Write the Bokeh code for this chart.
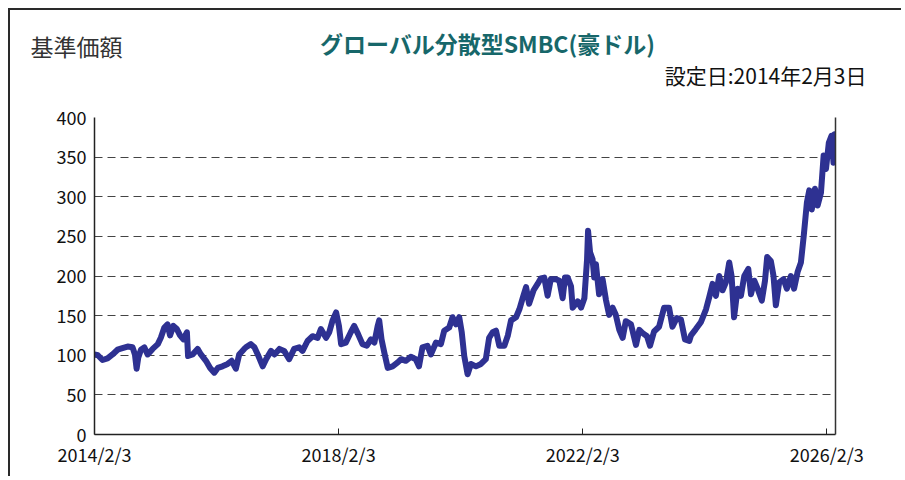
from datetime import datetime
from bokeh.plotting import figure
from bokeh.models import ColumnDataSource, FixedTicker, Range1d, LinearAxis
from bokeh.core.properties import value
from bokeh.embed import file_html
from bokeh.resources import INLINE

# ---- data ----
dates = [
    "2014-02-03", "2014-02-23", "2014-03-23", "2014-04-22", "2014-05-22", "2014-06-21",
    "2014-07-20", "2014-08-20", "2014-09-19", "2014-10-03", "2014-10-13", "2014-10-23",
    "2014-11-08", "2014-11-28", "2014-12-18", "2015-01-17", "2015-02-17", "2015-03-07",
    "2015-03-28", "2015-04-16", "2015-05-01", "2015-05-21", "2015-06-11", "2015-06-30",
    "2015-07-20", "2015-08-10", "2015-08-17", "2015-09-13", "2015-10-13", "2015-11-02",
    "2015-12-02", "2015-12-27", "2016-01-21", "2016-02-11", "2016-03-10", "2016-04-10",
    "2016-05-04", "2016-05-29", "2016-06-18", "2016-07-18", "2016-07-28", "2016-08-27",
    "2016-09-17", "2016-10-07", "2016-11-06", "2016-11-26", "2016-12-25", "2017-01-15",
    "2017-02-14", "2017-03-14", "2017-04-13", "2017-05-13", "2017-06-12", "2017-07-02",
    "2017-08-01", "2017-08-31", "2017-09-30", "2017-10-20", "2017-11-20", "2017-12-09",
    "2017-12-29", "2018-01-19", "2018-02-05", "2018-02-18", "2018-03-18", "2018-04-17",
    "2018-05-07", "2018-05-30", "2018-06-26", "2018-07-22", "2018-08-15", "2018-09-05",
    "2018-09-25", "2018-10-04", "2018-10-18", "2018-11-04", "2018-11-24", "2018-12-23",
    "2019-01-23", "2019-02-12", "2019-03-12", "2019-04-11", "2019-05-11", "2019-05-30",
    "2019-06-20", "2019-07-20", "2019-08-09", "2019-09-09", "2019-10-08", "2019-10-28",
    "2019-11-27", "2019-12-17", "2020-01-07", "2020-01-26", "2020-02-10", "2020-02-25",
    "2020-03-16", "2020-04-05", "2020-05-05", "2020-06-04", "2020-07-03", "2020-07-23",
    "2020-08-13", "2020-09-02", "2020-09-22", "2020-10-22", "2020-11-12", "2020-12-01",
    "2020-12-31", "2021-01-20", "2021-02-10", "2021-03-01", "2021-03-19", "2021-04-15",
    "2021-05-09", "2021-05-28", "2021-06-18", "2021-07-08", "2021-07-27", "2021-08-27",
    "2021-09-16", "2021-10-06", "2021-10-20", "2021-11-05", "2021-11-25", "2021-12-05",
    "2022-01-04", "2022-01-24", "2022-02-13", "2022-03-01", "2022-03-07", "2022-03-19",
    "2022-04-03", "2022-04-13", "2022-04-23", "2022-05-12", "2022-06-02", "2022-06-22",
    "2022-07-11", "2022-08-01", "2022-08-20", "2022-09-10", "2022-09-30", "2022-10-19",
    "2022-11-19", "2022-12-19", "2023-01-08", "2023-01-28", "2023-02-23", "2023-03-13",
    "2023-04-06", "2023-05-06", "2023-06-05", "2023-07-05", "2023-07-25", "2023-08-20",
    "2023-09-14", "2023-10-08", "2023-11-03", "2023-11-13", "2023-12-12", "2024-01-12",
    "2024-02-11", "2024-03-01", "2024-03-21", "2024-04-10", "2024-04-30", "2024-05-20",
    "2024-06-09", "2024-06-29", "2024-07-13", "2024-07-28", "2024-08-18", "2024-09-07",
    "2024-09-27", "2024-10-21", "2024-11-06", "2024-11-26", "2024-12-16", "2025-01-10",
    "2025-01-29", "2025-02-11", "2025-03-05", "2025-03-21", "2025-04-04", "2025-04-24",
    "2025-05-20", "2025-06-09", "2025-07-03", "2025-07-22", "2025-08-12", "2025-09-01",
    "2025-09-18", "2025-10-07", "2025-10-21", "2025-11-05", "2025-11-24", "2025-12-10",
    "2025-12-30", "2026-01-15", "2026-01-29", "2026-02-15", "2026-03-03", "2026-03-15",
    "2026-03-22", "2026-03-27",
]
nav = [
    101, 100, 94, 96, 101, 107,
    109, 111, 110, 101, 83, 97,
    107, 110, 101, 108, 114, 122,
    135, 139, 125, 137, 133, 125,
    120, 129, 99, 101, 108, 101,
    93, 84, 78, 84, 86, 89,
    93, 83, 101, 108, 110, 114,
    110, 101, 86, 95, 105.5, 101,
    108, 105.5, 95, 108, 110, 105.5,
    118, 124, 122, 133, 122, 129,
    144, 154, 137, 114, 116, 129,
    137, 127, 114, 112, 120, 116,
    137, 144, 120, 103, 84, 86,
    91, 95, 93, 98, 95, 86,
    110, 112, 101, 116, 114, 131,
    135, 148, 139, 148, 129, 99,
    76, 89, 86, 89, 95, 122,
    129, 131, 112, 112, 125, 144,
    148, 158, 173, 186, 165, 182,
    190, 197, 198, 175, 196, 196,
    194, 172, 198, 198, 187, 160,
    168, 160, 172, 221, 257, 230,
    221, 198, 215, 177, 196, 170,
    151, 160, 151, 132, 122, 143,
    139, 113, 132, 128, 124, 112,
    130, 136, 160, 160, 136, 147,
    145, 120, 118, 125, 133, 142,
    158, 173, 190, 175, 200, 182,
    192, 217, 200, 148, 184, 175,
    200, 209, 177, 194, 184, 169,
    194, 224, 219, 200, 163, 192,
    196, 184, 200, 184, 205, 217,
    251, 293, 308, 284, 310, 289,
    305, 352, 335, 368, 377, 343,
    379, 356,
]
x_tick_dates = ["2014-02-03", "2018-02-03", "2022-02-03", "2026-02-03"]
x_tick_labels = ["2014/2/3", "2018/2/3", "2022/2/3", "2026/2/3"]
y_ticks = [0, 50, 100, 150, 200, 250, 300, 350, 400]

title_text = "グローバル分散型SMBC(豪ドル)"
ylabel_text = "基準価額"
launch_text = "設定日:2014年2月3日"

FONT = "Noto Sans CJK JP"
W = 893
BORDER = "2px solid #2a2a2a"

# ---- header figure (titles), its own root so frames are not aligned ----
HH = 90
hdr = figure(width=W, height=HH, output_backend="svg", toolbar_location=None,
             x_range=Range1d(0, W), y_range=Range1d(HH, 0),
             x_axis_location=None, y_axis_location=None,
             min_border=0, min_border_left=0, min_border_right=0,
             min_border_top=0, min_border_bottom=0)
hdr.grid.visible = False
hdr.outline_line_color = None
hdr.styles = {"margin-left": "8px", "margin-top": "8px",
              "border-top": BORDER, "border-left": BORDER}
hdr.text(x=[20], y=[35], text=[ylabel_text], text_font=value(FONT),
         text_font_size="23px", text_color="#333333", text_baseline="middle")
hdr.text(x=[477], y=[32], text=[title_text], text_font=value(FONT),
         text_font_size="23px", text_font_style="bold", text_color="#17676a",
         text_align="center", text_baseline="middle")
hdr.text(x=[856], y=[64], text=[launch_text], text_font=value(FONT),
         text_font_size="21px", text_color="#111111", text_align="right",
         text_baseline="middle")

# ---- main chart ----
xs = [datetime.strptime(d, "%Y-%m-%d") for d in dates]
src = ColumnDataSource(dict(x=xs, y=nav))

def ms(d):
    return datetime.strptime(d, "%Y-%m-%d").timestamp() * 1000.0

H = 378
p = figure(width=W, height=H, output_backend="svg", toolbar_location=None,
           x_axis_type="datetime",
           x_range=Range1d(xs[0], xs[-1]), y_range=Range1d(0, 400),
           min_border_left=84, min_border_right=68, min_border_top=19,
           min_border_bottom=42)
p.styles = {"margin-left": "8px", "border-left": BORDER}

p.line("x", "y", source=src, line_color="#2e3192", line_width=6,
       line_join="round")

tick_ms = [ms(d) for d in x_tick_dates]
p.xaxis.ticker = FixedTicker(ticks=tick_ms)
p.xaxis.major_label_overrides = {t: l for t, l in zip(tick_ms, x_tick_labels)}
p.yaxis.ticker = FixedTicker(ticks=y_ticks)
for ax in (p.xaxis[0], p.yaxis[0]):
    ax.axis_line_color = "#222222"
    ax.axis_line_width = 1.5
    ax.major_label_text_font = FONT
    ax.major_label_text_font_size = "18px"
    ax.major_label_text_color = "#111111"
    ax.minor_tick_line_color = None
    ax.major_tick_line_color = "#222222"
p.yaxis.major_tick_line_color = None
p.xaxis.major_tick_in = 6
p.xaxis.major_tick_out = 0
p.xaxis.major_label_standoff = 6
p.yaxis.major_label_standoff = 2

p.xgrid.grid_line_color = None
p.ygrid.grid_line_color = "#444444"
p.ygrid.grid_line_dash = "8 5"
p.ygrid.grid_line_width = 1.2

p.outline_line_color = None
p.background_fill_color = "white"

# right border of plot area
p.extra_y_ranges = {"r": Range1d(0, 400)}
rax = LinearAxis(y_range_name="r", ticker=FixedTicker(ticks=[]),
                 major_tick_line_color=None, minor_tick_line_color=None,
                 axis_line_color="#333333", axis_line_width=1.5)
p.add_layout(rax, "right")

open("out.html", "w").write(file_html([hdr, p], INLINE))
